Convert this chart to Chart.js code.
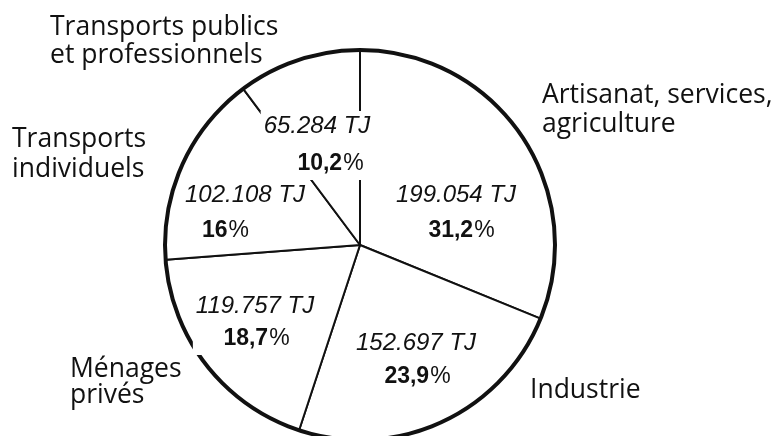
<!DOCTYPE html>
<html>
<head>
<meta charset="utf-8">
<script src="https://cdn.jsdelivr.net/npm/chart.js@4.4.1/dist/chart.umd.min.js"></script>
<style>
  html, body { margin: 0; padding: 0; background: #ffffff; }
  #wrap { width: 781px; height: 436px; position: relative; }
</style>
</head>
<body>
<div id="wrap"><canvas id="c" width="781" height="436"></canvas></div>
<script>
// ---- Data ----
const categories = [
  'Artisanat, services, agriculture',
  'Industrie',
  'Ménages privés',
  'Transports individuels',
  'Transports publics et professionnels'
];
const valuesTJ = [199054, 152697, 119757, 102108, 65284];
const valueLabels = ['199.054 TJ', '152.697 TJ', '119.757 TJ', '102.108 TJ', '65.284 TJ'];
const percentLabels = ['31,2', '23,9', '18,7', '16', '10,2'];
const categoryLines = [
  ['Artisanat, services,', 'agriculture'],
  ['Industrie'],
  ['Ménages', 'privés'],
  ['Transports', 'individuels'],
  ['Transports publics', 'et professionnels']
];

// ---- Layout (offsets from the pie centre, px) ----
const innerLayout = [
  { tj: [96, -43],  pc: [101, -8] },
  { tj: [56, 105],  pc: [57, 138] },
  { tj: [-105, 68], pc: [-104, 100] },
  { tj: [-115, -43], pc: [-135, -8] },
  { tj: [-43, -112], pc: [-30, -75] }
];
const outerLayout = [
  { x: 182, y: -142, lh: 29 },
  { x: 170, y: 153, lh: 28 },
  { x: -290, y: 132, lh: 26 },
  { x: -348, y: -98, lh: 30 },
  { x: -310, y: -210, lh: 28 }
];

const INK = '#111111';
const TJ_FONT = 'italic 24px "Liberation Sans", Arial, sans-serif';
const PC_BOLD = 'bold 23px "Liberation Sans", Arial, sans-serif';
const PC_REG = '23px "Liberation Sans", Arial, sans-serif';
const CAT_FONT = '26.5px "Open Sans", "Noto Sans", sans-serif';

const labelPlugin = {
  id: 'pieLabels',
  afterDatasetsDraw(chart) {
    const ctx = chart.ctx;
    const meta = chart.getDatasetMeta(0);
    const arc0 = meta.data[0];
    const cx = arc0.x, cy = arc0.y, r = arc0.outerRadius;

    // thicker outer rim
    ctx.save();
    ctx.beginPath();
    ctx.arc(cx, cy, r, 0, Math.PI * 2);
    ctx.lineWidth = 4;
    ctx.strokeStyle = INK;
    ctx.stroke();
    ctx.restore();

    // inner labels with white masks (like the printed original, lines stop at the text)
    ctx.save();
    ctx.textBaseline = 'alphabetic';
    meta.data.forEach((el, i) => {
      const L = innerLayout[i];
      const tjx = cx + L.tj[0], tjy = cy + L.tj[1];
      const pcx = cx + L.pc[0], pcy = cy + L.pc[1];
      ctx.font = TJ_FONT;
      const wTJ = ctx.measureText(valueLabels[i]).width;
      ctx.font = PC_BOLD;
      const wNum = ctx.measureText(percentLabels[i]).width;
      ctx.font = PC_REG;
      const wPct = ctx.measureText('%').width;
      const wP = wNum + wPct;
      const left = Math.min(tjx - wTJ / 2, pcx - wP / 2) - 3;
      const right = Math.max(tjx + wTJ / 2, pcx + wP / 2) + 3;
      const top = tjy - 22;
      const bottom = pcy + 10;
      ctx.fillStyle = '#ffffff';
      ctx.fillRect(left, top, right - left, bottom - top);

      ctx.fillStyle = INK;
      ctx.textAlign = 'center';
      ctx.font = TJ_FONT;
      ctx.fillText(valueLabels[i], tjx, tjy);
      ctx.textAlign = 'left';
      const startX = pcx - wP / 2;
      ctx.font = PC_BOLD;
      ctx.fillText(percentLabels[i], startX, pcy);
      ctx.font = PC_REG;
      ctx.fillText('%', startX + wNum + 1, pcy);
    });

    // category names outside the pie
    ctx.font = CAT_FONT;
    ctx.textAlign = 'left';
    ctx.fillStyle = INK;
    categoryLines.forEach((lines, i) => {
      const O = outerLayout[i];
      lines.forEach((t, k) => {
        ctx.fillText(t, cx + O.x, cy + O.y + k * O.lh);
      });
    });
    ctx.restore();
  }
};

new Chart(document.getElementById('c'), {
  type: 'pie',
  data: {
    labels: categories,
    datasets: [{
      data: valuesTJ,
      backgroundColor: '#ffffff',
      borderColor: INK,
      borderWidth: 2,
      radius: 195,
      clip: false
    }]
  },
  options: {
    responsive: false,
    devicePixelRatio: 1,
    animation: false,
    layout: { padding: { left: 165, right: 226, top: 54, bottom: 0 } },
    plugins: {
      legend: { display: false },
      tooltip: { enabled: false }
    }
  },
  plugins: [labelPlugin]
});
</script>
</body>
</html>
